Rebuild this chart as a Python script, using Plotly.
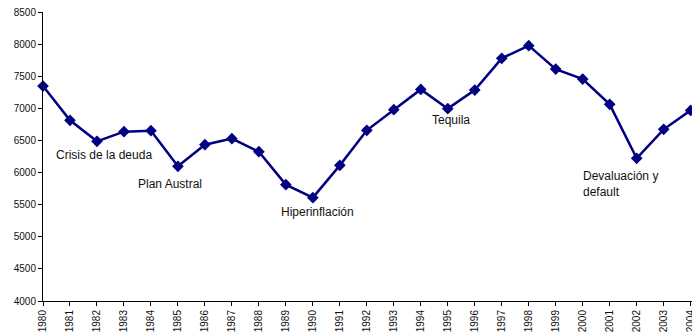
import plotly.graph_objects as go

years = list(range(1980, 2005))
values = [7347, 6813, 6486, 6637, 6652, 6097, 6434, 6528, 6325, 5812,
          5609, 6112, 6657, 6979, 7295, 6995, 7284, 7778, 7976, 7611,
          7456, 7062, 6221, 6673, 6968]
y_ticks = list(range(4000, 8501, 500))
events = ["Crisis de la deuda", "Plan Austral", "Hiperinflación", "Tequila",
          "Devaluación y<br>default"]

fig = go.Figure()
fig.add_trace(go.Scatter(
    x=years, y=values, mode="lines+markers",
    line=dict(color="#000080", width=2.5),
    marker=dict(symbol="diamond", size=9, color="#000080"),
    cliponaxis=False, showlegend=False,
))

font = dict(family="Liberation Sans, Arial, sans-serif", size=12, color="#111111")
ann = [
    dict(x=1982.27, y=6268, text=events[0], xanchor="center"),
    dict(x=1984.70, y=5817, text=events[1], xanchor="center"),
    dict(x=1990.18, y=5381, text=events[2], xanchor="center"),
    dict(x=1995.11, y=6813, text=events[3], xanchor="center"),
    dict(x=1999.93, y=5827, text=events[4], xanchor="left", align="left"),
]
for a in ann:
    fig.add_annotation(xref="x", yref="y", showarrow=False, yanchor="middle",
                       font=font, **a)

tick_font = dict(family="Liberation Sans, Arial, sans-serif", size=10, color="#111111")

fig.update_layout(
    width=692, height=335,
    margin=dict(l=43, r=0, t=12, b=34),
    paper_bgcolor="white", plot_bgcolor="white",
    xaxis=dict(
        range=[1980, 2004.05], tickmode="array", tickvals=years,
        ticktext=[str(y) for y in years], tickangle=-90,
        ticklabeloverflow="allow",
        ticks="outside", ticklen=4, tickcolor="black",
        showline=True, linecolor="black", linewidth=1,
        showgrid=False, zeroline=False, automargin=False,
        tickfont=tick_font,
    ),
    yaxis=dict(
        range=[4000, 8500], tickmode="array", tickvals=y_ticks,
        ticks="outside", ticklen=4, tickcolor="black",
        showline=True, linecolor="black", linewidth=1,
        showgrid=False, zeroline=False, automargin=False,
        tickfont=tick_font,
    ),
)

fig.write_html("out.html")
